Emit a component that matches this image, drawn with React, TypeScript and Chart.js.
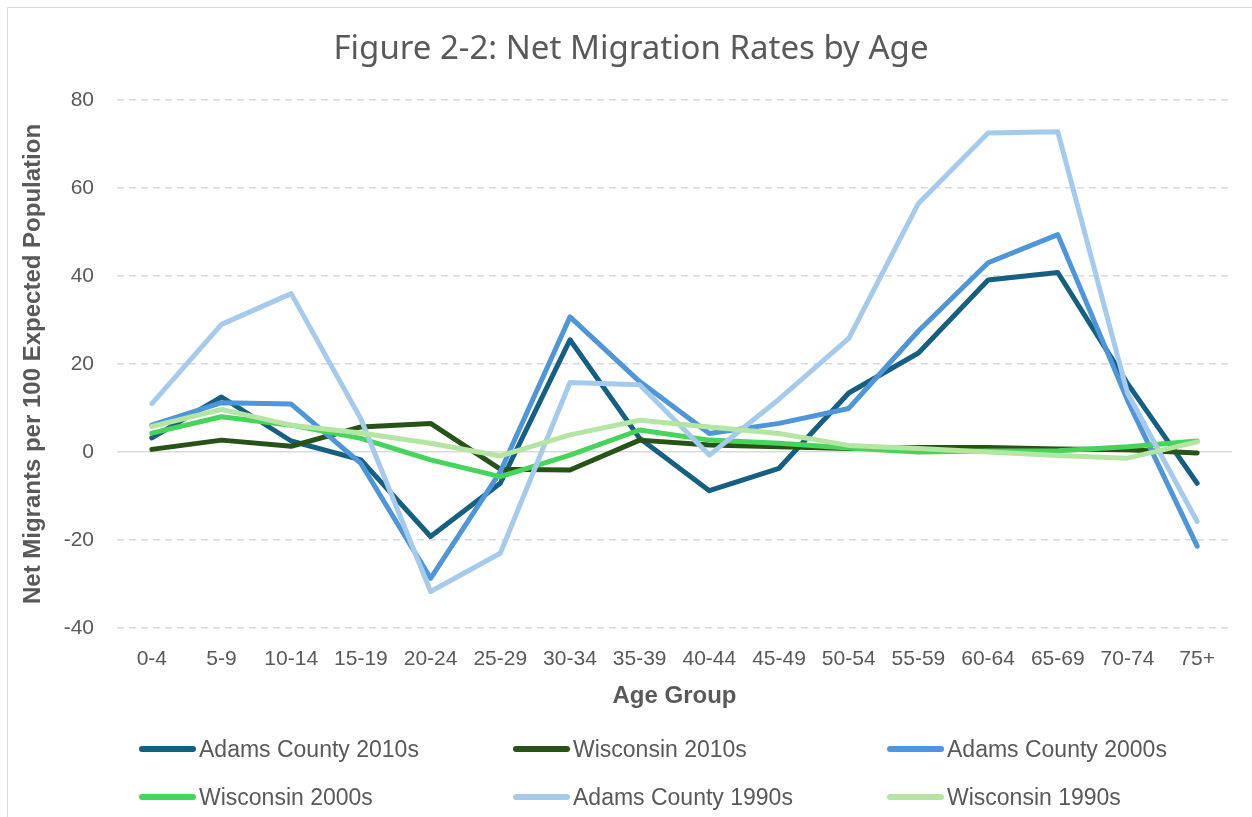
import React, { useEffect, useRef } from "react";
import { Chart, registerables } from "chart.js";

Chart.register(...registerables);

const chartTitle = "Figure 2-2: Net Migration Rates by Age";
const yAxisTitle = "Net Migrants per 100 Expected Population";
const xAxisTitle = "Age Group";

const ageGroups = ["0-4", "5-9", "10-14", "15-19", "20-24", "25-29", "30-34", "35-39", "40-44", "45-49", "50-54", "55-59", "60-64", "65-69", "70-74", "75+"];

const adams2010s = [3.2, 12.5, 2.5, -1.8, -19.2, -7.1, 25.5, 3.1, -8.8, -3.7, 13.4, 22.5, 39.1, 40.8, 15.6, -7.1];
const wisconsin2010s = [0.6, 2.7, 1.3, 5.7, 6.5, -3.9, -4.1, 2.7, 1.6, 1.2, 0.8, 1.0, 1.0, 0.7, 0.5, -0.2];
const adams2000s = [6.1, 11.2, 10.9, -2.6, -28.7, -4.5, 30.7, 16.0, 4.2, 6.5, 9.9, 27.5, 43.0, 49.4, 11.8, -21.4];
const wisconsin2000s = [4.3, 8.0, 6.1, 3.1, -1.8, -5.6, -0.7, 5.0, 2.7, 2.0, 0.9, 0.0, 0.2, 0.3, 1.2, 2.5];
const adams1990s = [11.0, 29.0, 36.0, 7.5, -31.7, -23.0, 15.8, 15.3, -0.7, 12.0, 25.8, 56.5, 72.5, 72.8, 13.4, -15.8];
const wisconsin1990s = [5.8, 9.7, 6.1, 4.3, 2.0, -0.9, 3.9, 7.2, 5.7, 4.2, 1.5, 0.8, 0.0, -0.8, -1.4, 2.3];

const seriesNames = ["Adams County 2010s", "Wisconsin 2010s", "Adams County 2000s", "Wisconsin 2000s", "Adams County 1990s", "Wisconsin 1990s"];
const seriesValues = [adams2010s, wisconsin2010s, adams2000s, wisconsin2000s, adams1990s, wisconsin1990s];
const seriesColors = ["#156082", "#275317", "#4E95D9", "#47D45A", "#A6CAEC", "#B4E5A2"];

const yTicks = [-40, -20, 0, 20, 40, 60, 80];

const TEXT = "#595959";
const FONT = "'Liberation Sans', Arial, sans-serif";
const TITLE_FONT = "'Noto Sans', 'Open Sans', sans-serif";

const titlePlugin = {
  id: "figureTitle",
  afterDraw(chart: any) {
    const ctx = chart.ctx;
    ctx.save();
    ctx.fillStyle = TEXT;
    ctx.font = `normal 33px ${TITLE_FONT}`;
    ctx.textAlign = "center";
    ctx.textBaseline = "middle";
    ctx.fillText(chartTitle, 631, 50);
    ctx.restore();
  },
};

export default function App() {
  const canvasRef = useRef<HTMLCanvasElement | null>(null);

  useEffect(() => {
    const canvas = canvasRef.current;
    if (!canvas) return;
    const chart = new Chart(canvas, {
      type: "line",
      data: {
        labels: ageGroups,
        datasets: seriesNames.map((name, i) => ({
          label: name,
          data: seriesValues[i],
          borderColor: seriesColors[i],
          backgroundColor: seriesColors[i],
          borderWidth: 5,
          pointRadius: 0,
          pointHoverRadius: 0,
          tension: 0,
          fill: false,
          borderCapStyle: "round" as const,
          borderJoinStyle: "round" as const,
          order: seriesNames.length - i,
        })),
      },
      options: {
        responsive: false,
        animation: false,
        events: [],
        layout: { padding: { left: 0, right: 20, top: 100, bottom: 0 } },
        plugins: {
          legend: { display: false },
          tooltip: { enabled: false },
          title: { display: false },
        },
        scales: {
          x: {
            type: "category",
            offset: true,
            grid: { display: false, drawTicks: false },
            border: { display: false },
            ticks: {
              color: TEXT,
              padding: 19,
              maxRotation: 0,
              autoSkip: false,
              font: { family: FONT, size: 21, lineHeight: 1.2 },
            },
            title: {
              display: true,
              text: xAxisTitle,
              color: TEXT,
              font: { family: FONT, size: 24, weight: "bold", lineHeight: 1.2 },
              padding: { top: 0, bottom: 106 },
            },
            afterFit: (scale: any) => {
              scale.height = 189;
            },
          },
          y: {
            type: "linear",
            min: -40,
            max: 80,
            afterBuildTicks: (scale: any) => {
              scale.ticks = yTicks.map((v) => ({ value: v }));
            },
            grid: {
              display: true,
              drawTicks: false,
              color: "#D9D9D9",
              lineWidth: 1.5,
            },
            border: {
              display: false,
              dash: (ctx: any) => (ctx.tick && ctx.tick.value === 0 ? [] : [7, 5]),
            },
            ticks: {
              color: TEXT,
              padding: 23,
              font: { family: FONT, size: 21, lineHeight: 1.2 },
            },
            title: {
              display: true,
              text: yAxisTitle,
              color: TEXT,
              font: { family: FONT, size: 24, weight: "bold", lineHeight: 1.2 },
              padding: { top: 19, bottom: 0 },
            },
            afterFit: (scale: any) => {
              scale.width = 117;
            },
          },
        },
      },
      plugins: [titlePlugin],
    });
    return () => chart.destroy();
  }, []);

  const legendCols = [139, 513, 887];
  const legendRows = [749, 797];

  return (
    <div style={{ position: "absolute", left: 0, top: 0, width: 1252, height: 817, overflow: "hidden", background: "#fff" }}>
      <div style={{ position: "absolute", left: 7, top: 7, width: 1300, height: 900, borderLeft: "1.5px solid #D9D9D9", borderTop: "1.5px solid #D9D9D9", boxSizing: "border-box" }} />
      <canvas ref={canvasRef} width={1252} height={817} style={{ position: "absolute", left: 0, top: 0, width: 1252, height: 817 }} />
      {seriesNames.map((name, i) => {
        const col = i % 3;
        const row = Math.floor(i / 3);
        return (
          <div
            key={name}
            style={{
              position: "absolute",
              left: legendCols[col],
              top: legendRows[row] - 15,
              height: 30,
              display: "flex",
              alignItems: "center",
              fontFamily: FONT,
              fontSize: 23,
              color: TEXT,
              whiteSpace: "nowrap",
            }}
          >
            <span style={{ display: "inline-block", width: 57, height: 6, borderRadius: 3, background: seriesColors[i], marginRight: 3 }} />
            <span>{name}</span>
          </div>
        );
      })}
    </div>
  );
}
